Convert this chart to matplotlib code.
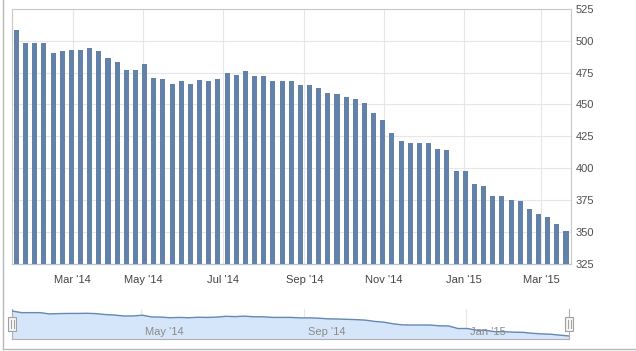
import numpy as np
import pandas as pd
import matplotlib
matplotlib.use('Agg')
import matplotlib.pyplot as plt
import matplotlib.dates as mdates
from matplotlib.patches import Rectangle
from matplotlib.lines import Line2D
from matplotlib.transforms import blended_transform_factory

plt.rcParams['font.family'] = ['Liberation Sans', 'DejaVu Sans']

# weekly dates (one week missing -> ordinal axis like highstock)
dates = pd.date_range('2014-01-17', periods=62, freq='7D')
dates = dates[dates != pd.Timestamp('2014-04-18')]

values = [508, 498, 498, 498, 490, 492, 493, 493, 494, 492,
          486, 483, 477, 477, 482, 471, 470, 466, 468, 466,
          469, 468, 470, 475, 473, 476, 472, 472, 468, 468,
          468, 465, 465, 463, 459, 458, 456, 454, 451, 443,
          438, 428, 421, 420, 420, 420, 415, 414, 398, 398,
          388, 386, 378, 378, 375, 374, 368, 364, 362, 356,
          351]

main_ticks = ['2014-03-01', '2014-05-01', '2014-07-01', '2014-09-01',
              '2014-11-01', '2015-01-01', '2015-03-01']
main_labels = ["Mar '14", "May '14", "Jul '14", "Sep '14",
               "Nov '14", "Jan '15", "Mar '15"]
nav_ticks = ['2014-05-01', '2014-09-01', '2015-01-01']
nav_labels = ["May '14", "Sep '14", "Jan '15"]
y_ticks = [325, 350, 375, 400, 425, 450, 475, 500, 525]

x = np.arange(len(values))
dnum = mdates.date2num(dates.to_pydatetime())


def ordinal(ticks):
    t = mdates.date2num(pd.to_datetime(ticks).to_pydatetime())
    return np.interp(t, dnum, x)


W, H = 636, 351
fig = plt.figure(figsize=(W / 100, H / 100), dpi=100)

bar_col = '#6282a9'
grid_col = '#e6e6e6'
text_col = '#505050'

# main chart
ax = fig.add_axes([12 / W, 87 / H, 558.5 / W, 255.3 / H])
ax.bar(x, values, width=0.55, color=bar_col, zorder=3)
ax.set_xlim(-0.48, len(values) - 1 + 0.49)
ax.set_ylim(325, 525)
ax.set_yticks(y_ticks)
ax.yaxis.tick_right()
ax.tick_params(axis='y', length=0, pad=4, labelsize=8, labelcolor=text_col)
ax.set_xticks(ordinal(main_ticks))
ax.set_xticklabels(main_labels)
ax.tick_params(axis='x', length=0, pad=8, labelsize=8, labelcolor='#444444')
ax.grid(True, color=grid_col, linewidth=0.8, zorder=0)
for s in ['left', 'top', 'right']:
    ax.spines[s].set_color('#c8c8c8')
    ax.spines[s].set_linewidth(0.8)
ax.spines['bottom'].set_color('#b8c4d0')
ax.spines['bottom'].set_linewidth(0.9)

# navigator
nav = fig.add_axes([12.3 / W, 11.7 / H, 557 / W, 30.3 / H])
nav.fill_between(x, values, 330, color='#d6e6fa', zorder=2)
nav.plot(x, values, color='#6688b4', linewidth=1.0, zorder=3)
nav.set_xlim(0, len(values) - 1)
nav.set_ylim(330, 521)
nav.set_yticks([])
nav_pos = ordinal(nav_ticks)
nav.set_xticks(nav_pos)
nav.set_xticklabels([])
nav.tick_params(axis='x', length=0)
nav.grid(True, axis='x', color=grid_col, linewidth=0.8, zorder=1)
for s in ['top']:
    nav.spines[s].set_visible(False)
for s in ['left', 'right', 'bottom']:
    nav.spines[s].set_color('#b0b0b0')
    nav.spines[s].set_linewidth(0.8)
trans = blended_transform_factory(nav.transData, nav.transAxes)
for p, lab in zip(nav_pos, nav_labels):
    nav.text(p + 0.4, 0.24, lab, transform=trans, fontsize=8,
             color='#8a8a8a', va='center', ha='left', zorder=4)

# handles
hw = 8 / 557
for hx in [0, 1]:
    nav.add_patch(Rectangle((hx - hw / 2, 0.28), hw, 0.46,
                            transform=nav.transAxes, facecolor='#f4f4f4',
                            edgecolor='#a0a0a0', linewidth=0.8,
                            clip_on=False, zorder=5))
    for dx in [-1.3 / 557, 1.3 / 557]:
        nav.add_line(Line2D([hx + dx, hx + dx], [0.38, 0.64],
                            transform=nav.transAxes, color='#a0a0a0',
                            linewidth=0.7, clip_on=False, zorder=6))

# container border
fig.add_artist(Line2D([2.5 / W, 2.5 / W], [1.7 / H, 1], color='#b8b8b8', linewidth=1))
fig.add_artist(Line2D([2.5 / W, 1], [1.7 / H, 1.7 / H], color='#b8b8b8', linewidth=1))

fig.savefig('out.png', dpi=100)
